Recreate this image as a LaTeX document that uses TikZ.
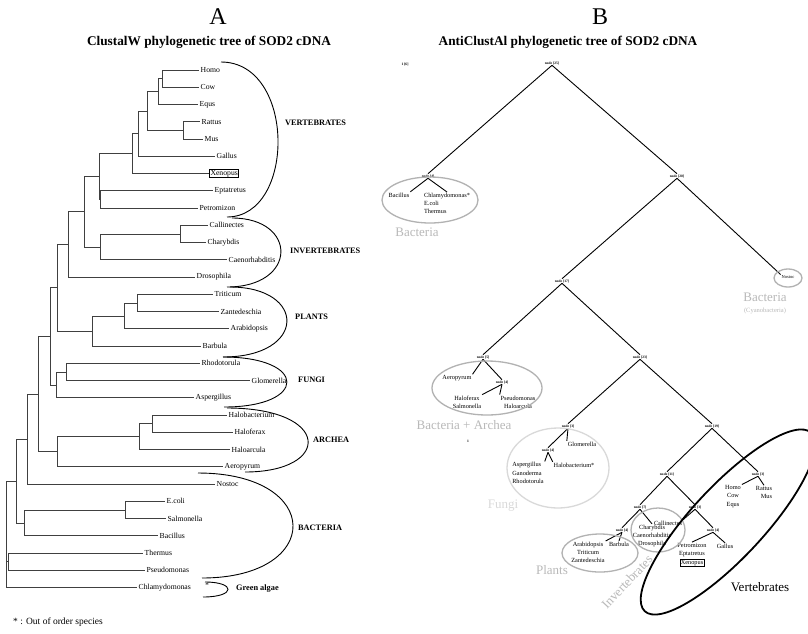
\documentclass[tikz,border=0pt]{standalone}
\usepackage{fontspec}
\setmainfont{Liberation Serif}

\begin{document}
\begin{tikzpicture}[x=1pt, y=-1pt,
  leaf/.style={anchor=west, inner sep=1.5pt, font=\fontsize{7.7}{9}\selectfont},
  xbox/.style={draw, line width=1pt, inner sep=1pt},
  noframe/.style={},
  branch/.style={draw=black!75, line width=0.55pt},
  cladearc/.style={line width=0.9pt},
  clade/.style={anchor=west, inner sep=0pt, font=\fontsize{8.3}{9}\selectfont\bfseries},
  tnode/.style={inner sep=0.6pt, font=\fontsize{3.6}{4}\selectfont\bfseries},
  tleaf/.style={inner sep=0.8pt, font=\fontsize{6.3}{8.3}\selectfont},
  tline/.style={line width=0.9pt},
  grouping/.style={draw=gray!60, line width=1.3pt},
  glabel/.style={text=gray!55, font=\fontsize{13}{14}\selectfont}]

\fill[white] (0,0) rectangle (808,633);
\useasboundingbox (0,0) rectangle (808,633);

% titles
\node[font=\fontsize{24}{26}\selectfont] (ta) at (218,17) {A};
\node[font=\fontsize{13.3}{15}\selectfont\bfseries] (tta) at (209,42) {ClustalW phylogenetic tree of SOD2 cDNA};
\node[font=\fontsize{24}{26}\selectfont] (tb) at (600,17) {B};
\node[font=\fontsize{13.3}{15}\selectfont\bfseries] (ttb) at (568,42) {AntiClustAl phylogenetic tree of SOD2 cDNA};

% ---- A: ClustalW tree ----
\foreach \name/\lab/\x/\st [count=\i from 0] in {
  homo/Homo/199/noframe, cow/Cow/199/noframe, equs/Equs/198/noframe,
  rattus/Rattus/200/noframe, mus/Mus/203/noframe, gallus/Gallus/215/noframe,
  xenopus/Xenopus/209/xbox, eptatretus/Eptatretus/213/noframe, petromizon/Petromizon/198/noframe,
  callinectes/Callinectes/208/noframe, charybdis/Charybdis/206/noframe, caeno/Caenorhabditis/227/noframe,
  drosophila/Drosophila/195/noframe, triticum/Triticum/213/noframe, zante/Zantedeschia/219/noframe,
  arabidopsis/Arabidopsis/229/noframe, barbula/Barbula/201/noframe, rhodotorula/Rhodotorula/200/noframe,
  glomerella/Glomerella/250/noframe, aspergillus/Aspergillus/194/noframe, halobact/Halobacterium/227/noframe,
  haloferax/Haloferax/233/noframe, haloarcula/Haloarcula/230/noframe, aeropyrum/Aeropyrum/223/noframe,
  nostoc/Nostoc/215/noframe, ecoli/E.coli/165/noframe, salmonella/Salmonella/166/noframe,
  bacillus/Bacillus/158/noframe, thermus/Thermus/143/noframe, pseudomonas/Pseudomonas/145/noframe,
  chlamy/Chlamydomonas/137/noframe}
  \node[leaf, \st] (\name) at (\x, {70+17.25*\i}) {\lab};

\coordinate (hc) at (162,78.6);
\coordinate (hce) at (158,91.6);
\coordinate (rm) at (183,130.4);
\coordinate (mam) at (147,111);
\coordinate (gal) at (138,133.6);
\coordinate (xen) at (132,153.5);
\coordinate (ep) at (100,199.4);
\coordinate (vert) at (99,176.5);
\coordinate (cc) at (180,233.9);
\coordinate (ccc) at (100,246.8);
\coordinate (vi) at (84,211.6);
\coordinate (dro) at (68,244.3);
\coordinate (tz) at (137,302.9);
\coordinate (tza) at (124,315.8);
\coordinate (pl) at (92,330.9);
\coordinate (ap) at (57,287.6);
\coordinate (rg) at (66,371.9);
\coordinate (fu) at (56,384.8);
\coordinate (euk) at (50,336.2);
\coordinate (hh) at (152,423.6);
\coordinate (hha) at (139,436.6);
\coordinate (archaea) at (57,451.7);
\coordinate (ea) at (38,394);
\coordinate (ean) at (27,439);
\coordinate (es) at (125,509.9);
\coordinate (esb) at (24,522.8);
\coordinate (big) at (16,481);
\coordinate (tp) at (8,561.6);
\coordinate (root) at (6,534);

\foreach \p/\c in {hc/homo.west, hc/cow.west, hce/hc, hce/equs.west, rm/rattus.west, rm/mus.west,
  mam/hce, mam/rm, gal/mam, gal/gallus.west, xen/gal, xen/xenopus.west,
  ep/eptatretus.west, ep/petromizon.west, vert/xen, vert/ep,
  cc/callinectes.west, cc/charybdis.west, ccc/cc, ccc/caeno.west, vi/vert, vi/ccc,
  dro/vi, dro/drosophila.west, tz/triticum.west, tz/zante.west, tza/tz, tza/arabidopsis.west,
  pl/tza, pl/barbula.west, ap/dro, ap/pl, rg/rhodotorula.west, rg/glomerella.west,
  fu/rg, fu/aspergillus.west, euk/ap, euk/fu, hh/halobact.west, hh/haloferax.west,
  hha/hh, hha/haloarcula.west, archaea/hha, archaea/aeropyrum.west, ea/euk, ea/archaea,
  ean/ea, ean/nostoc.west, es/ecoli.west, es/salmonella.west, esb/es, esb/bacillus.west,
  big/ean, big/esb, tp/thermus.west, tp/pseudomonas.west, root/big, root/tp, root/chlamy.west}
  \draw[branch] (\p) |- (\c);

% clade brackets
\draw[cladearc] (221,62) .. controls (296,62) and (296,217) .. (227,217);
\draw[cladearc] (232,218) .. controls (298,218) and (298,287) .. (227,287);
\draw[cladearc] (230,287) .. controls (307,287) and (307,357) .. (223,357);
\draw[cladearc] (223,357) .. controls (308,357) and (308,407) .. (224,407);
\draw[cladearc] (227,408) .. controls (332,408) and (332,472) .. (245,472);
\draw[cladearc] (198,473) .. controls (324,473) and (324,578) .. (202,578);
\draw[cladearc] (205,582) .. controls (236,582) and (236,597) .. (203,597);

\node[clade] (cv) at (285,123) {VERTEBRATES};
\node[clade] (ci) at (290,251) {INVERTEBRATES};
\node[clade] (cp) at (295,317) {PLANTS};
\node[clade] (cf) at (298,380) {FUNGI};
\node[clade] (ca) at (313,440) {ARCHEA};
\node[clade] (cb) at (298,528) {BACTERIA};
\node[font=\fontsize{7}{8}\selectfont] (star) at (207,585) {*};
\node[clade] (cg) at (236,589) {Green algae};

\node[anchor=west, inner sep=0pt, font=\fontsize{9.5}{11}\selectfont] (foot) at (13,622) {* : Out of order species};

% ---- B: AntiClustAl tree ----
\node[tnode] (one) at (405,64) {1 [6]};
\node[tnode] (r25) at (552,63) {node [25]};
\node[tnode] (r4a) at (428,176) {node [4]};
\node[tnode] (r20) at (677,176) {node [20]};
\node[tnode] (r17) at (562,281) {node [17]};
\node[tnode] (r5) at (483,357) {node [5]};
\node[tnode] (r23) at (640,357) {node [23]};
\node[tnode] (r4b) at (502,382) {node [4]};
\node[tnode] (r3a) at (568,426) {node [3]};
\node[tnode] (r19) at (712,426) {node [19]};
\node[tnode] (r4c) at (548,450) {node [4]};
\node[tnode] (r11) at (667,474) {node [11]};
\node[tnode] (r3b) at (758,474) {node [3]};
\node[tnode] (r7) at (640,507) {node [7]};
\node[tnode] (r3c) at (695,507) {node [3]};
\node[tnode] (r4d) at (622,530) {node [4]};
\node[tnode] (r4e) at (713,530) {node [4]};
\node[tnode] (one2) at (468,441) {1};

\node[tleaf] (bBac) at (399,195) {Bacillus};
\node[tleaf, align=left] (bChl) at (447,203.5) {Chlamydomonas*\\E.coli\\Thermus};
\node[tleaf, font=\fontsize{4.5}{5}\selectfont] (bNos) at (788,277) {Nostoc};
\node[tleaf] (bAer) at (457,378) {Aeropyrum};
\node[tleaf, align=center] (bHfx) at (467,402) {Haloferax\\Salmonella};
\node[tleaf, align=center] (bPse) at (518,402) {Pseudomonas\\Haloarcula};
\node[tleaf] (bGlo) at (582,444) {Glomerella};
\node[tleaf, align=left] (bAsp) at (528,473) {Aspergillus\\Ganoderma\\Rhodotorula};
\node[tleaf] (bHba) at (574,465) {Halobacterium*};
\node[tleaf, align=center] (bHom) at (733,496.5) {Homo\\Cow\\Equs};
\node[tleaf, align=right] (bRat) at (764,492.5) {Rattus\\Mus};
\node[tleaf] (bCal) at (668,523) {Callinectes};
\node[tleaf, align=center] (bCha) at (652,536) {Charybdis\\Caenorhabditis\\Drosophila};
\node[tleaf, align=center] (bAra) at (588,552.5) {Arabidopsis\\Triticum\\Zantedeschia};
\node[tleaf] (bBar) at (619,544) {Barbula};
\node[tleaf, align=center] (bPet) at (692,550) {Petromizon\\Eptatretus};
\node[tleaf, draw, line width=0.9pt] (bXen) at (692,563) {Xenopus};
\node[tleaf] (bGal) at (725,546) {Gallus};

\foreach \a/\b in {r25.south/r4a.north, r25.south/r20.north,
  r4a.south/bBac.north east, r4a.south/bChl.north,
  r20.south/r17.north, r20.south/bNos.north west,
  r17.south/r5.north, r17.south/r23.north,
  r5.south/bAer.north east, r5.south/r4b.north,
  r4b.south/bHfx.north east, r4b.south/bPse.north west,
  r23.south/r3a.north, r23.south/r19.north,
  r3a.south/r4c.north, r3a.south/bGlo.north west,
  r4c.south/bAsp.north east, r4c.south/bHba.north west,
  r19.south/r11.north, r19.south/r3b.north,
  r3b.south/bHom.north east, r3b.south/bRat.north,
  r11.south/r7.north, r11.south/r3c.north,
  r7.south/r4d.north, r7.south/bCha.north,
  r3c.south/bCal.north east, r3c.south/r4e.north,
  r4d.south/bAra.north east, r4d.south/bBar.north,
  r4e.south/bPet.north, r4e.south/bGal.north}
  \draw[tline] (\a) -- (\b);

% groups
\draw[grouping] (430,200) ellipse [x radius=48pt, y radius=23pt];
\draw[grouping] (788,278) ellipse [x radius=14pt, y radius=9pt];
\draw[grouping] (487,388) ellipse [x radius=55pt, y radius=27pt];
\draw[grouping, draw=gray!30] (558,468) ellipse [x radius=51pt, y radius=40pt];
\draw[grouping] (600,553) ellipse [x radius=38pt, y radius=19pt];
\draw[grouping] (658,530) ellipse [x radius=27pt, y radius=22pt];
\draw[line width=1.8pt, rotate around={47:(728,522)}] (728,522) ellipse [x radius=122pt, y radius=36pt];

\node[glabel] (gb1) at (417,232) {Bacteria};
\node[glabel] (gb2) at (765,297) {Bacteria};
\node[text=gray!55, font=\fontsize{6.5}{7}\selectfont] (gcy) at (765,311) {(Cyanobacteria)};
\node[glabel] (gba) at (464,425) {Bacteria + Archea};
\node[glabel, text=gray!30] (gfu) at (503,506) {Fungi};
\node[glabel] (gpl) at (552,570) {Plants};
\node[glabel, rotate=47] (giv) at (627,582) {Invertebrates};
\node[glabel, text=black] (gve) at (760,587) {Vertebrates};
\end{tikzpicture}
\end{document}
